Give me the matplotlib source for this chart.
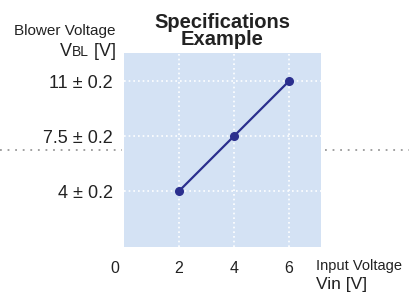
import matplotlib.pyplot as plt
import matplotlib.transforms as mtransforms
from matplotlib.lines import Line2D
from matplotlib.offsetbox import TextArea, HPacker, AnnotationBbox

plt.rcParams['font.family'] = ['Liberation Sans', 'DejaVu Sans']

# data
vin = [2, 4, 6]
vbl = [4, 7.5, 11]
x_ticks = [0, 2, 4, 6]
x_labels = ['0', '2', '4', '6']
y_ticks = [4, 7.5, 11]
y_labels = ['4 \u00b1 0.2', '7.5 \u00b1 0.2', '11 \u00b1 0.2']

BG = '#d4e2f4'
NAVY = '#2b2f8e'
TXT = '#222222'

fig = plt.figure(figsize=(4.09, 2.93), dpi=100)
ax = fig.add_axes([0.3032, 0.157, 0.4817, 0.662])
ax.set_facecolor(BG)

ax.plot(vin, vbl, color=NAVY, lw=1.6, marker='o', ms=5.5, zorder=3)

ax.set_xlim(0, 7.16)
ax.set_ylim(0.44, 12.78)
ax.set_xticks(x_ticks)
ax.set_xticklabels(x_labels, fontsize=11.5, color=TXT)
ax.set_yticks(y_ticks)
ax.set_yticklabels(y_labels, fontsize=13, color=TXT)
ax.tick_params(length=0)
ax.tick_params(axis='y', pad=8)
ax.tick_params(axis='x', pad=10)
for s in ax.spines.values():
    s.set_visible(False)

# the "0" label sits a bit left of the axes edge
lbl0 = ax.get_xticklabels()[0]
lbl0.set_transform(lbl0.get_transform() +
                   mtransforms.ScaledTranslation(-9 / 100, 0, fig.dpi_scale_trans))

# grid: white dotted, skip x=0
for x in vin:
    ax.axvline(x, color='white', lw=1.2, ls=(0, (1, 1.8)), zorder=1)
for y in y_ticks:
    ax.axhline(y, color='white', lw=1.2, ls=(0, (1, 1.8)), zorder=1)

ax.set_title('Specifications\nExample', fontsize=14.5, fontweight='bold',
             color=TXT, pad=6, linespacing=0.85)

# y label
fig.text(116 / 409, 1 - 31 / 293, 'Blower Voltage', ha='right', va='center',
         fontsize=11, color=TXT)
parts = [TextArea('V', textprops=dict(fontsize=13, color=TXT)),
         TextArea('BL', textprops=dict(fontsize=10, color=TXT)),
         TextArea(' [V]', textprops=dict(fontsize=13, color=TXT))]
vbl_label = HPacker(children=parts, align='baseline', pad=0, sep=0)
ab = AnnotationBbox(vbl_label, (116 / 409, 1 - 52 / 293), xycoords='figure fraction',
                    box_alignment=(1, 0.5), frameon=False, pad=0)
fig.add_artist(ab)

# x label
fig.text(316 / 409, 1 - 266 / 293, 'Input Voltage', ha='left', va='center',
         fontsize=10.5, color=TXT)
fig.text(316 / 409, 1 - 284 / 293, 'Vin [V]', ha='left', va='center',
         fontsize=12.5, color=TXT)

# gray dotted separator outside the plot
yy = 1 - 150 / 293
fig.add_artist(Line2D([0, 122 / 409], [yy, yy], color='#999999', lw=1.3,
                      ls=(0, (1, 3.2)), transform=fig.transFigure))
fig.add_artist(Line2D([325 / 409, 1], [yy, yy], color='#999999', lw=1.3,
                      ls=(0, (1, 3.2)), transform=fig.transFigure))

fig.savefig('out.png', dpi=100)
